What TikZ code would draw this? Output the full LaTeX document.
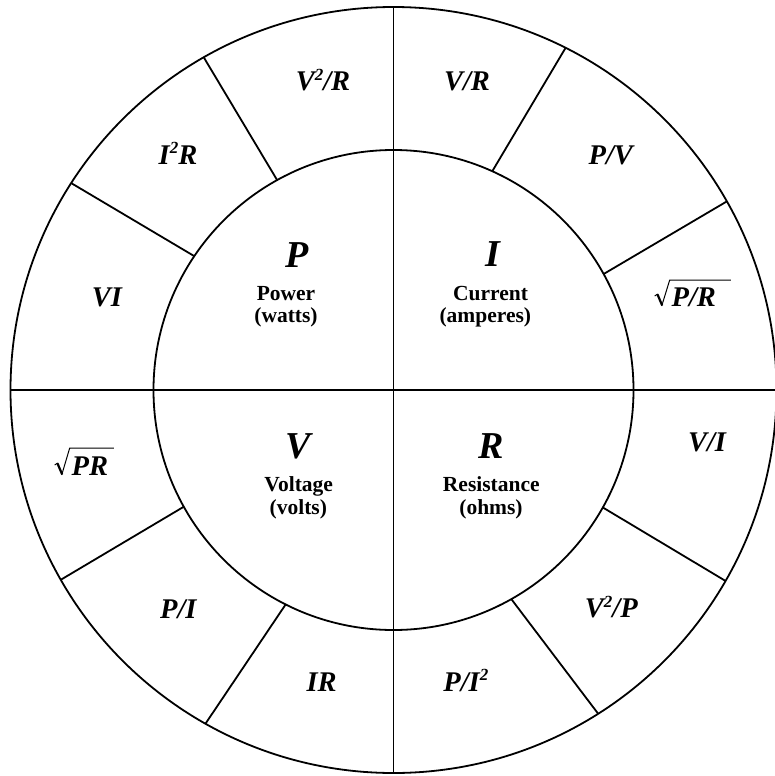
\documentclass[tikz,border=0pt]{standalone}
\usepackage{fontspec}
\setmainfont{Liberation Serif}
\usetikzlibrary{calc}
\newcommand\sq{\raisebox{0.37em}{\fontsize{17}{17}\selectfont 2}}
\begin{document}
\begin{tikzpicture}[x=1pt,y=-1pt,line width=1.8pt,
  bigsym/.style={font=\bfseries\itshape\fontsize{38}{42}\selectfont,inner sep=0pt,anchor=base},
  formula/.style={font=\bfseries\itshape\fontsize{28.5}{32}\selectfont,inner sep=0pt,anchor=base},
  qname/.style={font=\bfseries\fontsize{21.5}{24}\selectfont,inner sep=0pt,anchor=base},
  radthin/.style={line width=1pt,line join=miter},
  radthick/.style={line width=2.2pt}]
\useasboundingbox (0,0) rectangle (775,776);
\coordinate (O) at (393.5,390);
\draw (O) circle (383pt);
\draw (O) circle (240pt);
\draw ($(O)+(-383,0)$) -- ($(O)+(383,0)$);
\draw ($(O)+(0,-383)$) -- ($(O)+(0,383)$);
% dividers
\draw ($(O)+(241:240)$) -- ($(O)+(240.3:383)$);
\draw ($(O)+(213.9:240)$) -- ($(O)+(212.7:383)$);
\draw ($(O)+(294.3:240)$) -- ($(O)+(296.7:383)$);
\draw ($(O)+(331.1:240)$) -- ($(O)+(330.5:383)$);
\draw ($(O)+(150.9:240)$) -- ($(O)+(150.3:383)$);
\draw ($(O)+(116.7:240)$) -- ($(O)+(119.4:383)$);
\draw ($(O)+(29.3:240)$) -- ($(O)+(29.9:383)$);
\draw ($(O)+(60.6:240)$) -- ($(O)+(57.7:383)$);
% quadrant P
\node[bigsym] (P) at (297,267.7) {P};
\node[qname] (Pn) at (286,300) {Power};
\node[qname] (Pu) at (286,322.7) {(watts)};
\node[formula] (f1) at (323,90.7) {V\sq/R};
\node[formula] (f2) at (178,164) {I\sq R};
\node[formula] (f3) at (107,306.7) {VI};
% quadrant I
\node[bigsym] (I) at (493.3,266.7) {I};
\node[qname] (In) at (490.5,300) {Current};
\node[qname] (Iu) at (485.3,322.7) {(amperes)};
\node[formula] (f4) at (467,90.7) {V/R};
\node[formula] (f5) at (610.8,164) {P/V};
\node[formula,anchor=base west] (f6) at (670.7,306) {P/R};
\draw[radthin] ($(f6.base west)+(-16,-10)$) -- ++(3,-2);
\draw[radthick] ($(f6.base west)+(-13.3,-11.8)$) -- ($(f6.base west)+(-8.5,-0.5)$);
\draw[radthin] ($(f6.base west)+(-9,0)$) -- ($(f6.base west)+(-1,-26)$) -- ($(f6.base east)+(14,-26)$);
% quadrant V
\node[bigsym] (V) at (298.3,458.3) {V};
\node[qname] (Vn) at (298.7,491) {Voltage};
\node[qname] (Vu) at (298.3,514.3) {(volts)};
\node[formula,anchor=base west] (f7) at (70.7,475) {PR};
\draw[radthin] ($(f7.base west)+(-16,-10)$) -- ++(3,-2);
\draw[radthick] ($(f7.base west)+(-13.3,-11.8)$) -- ($(f7.base west)+(-8.5,-0.5)$);
\draw[radthin] ($(f7.base west)+(-9,0)$) -- ($(f7.base west)+(-1,-27)$) -- ($(f7.base east)+(5,-27)$);
\node[formula] (f8) at (178.3,618.3) {P/I};
\node[formula] (f9) at (321.7,691) {IR};
% quadrant R
\node[bigsym] (R) at (491,458.3) {R};
\node[qname] (Rn) at (491.3,491) {Resistance};
\node[qname] (Ru) at (491,514.3) {(ohms)};
\node[formula] (f10) at (707,451) {V/I};
\node[formula] (f11) at (611.3,617.7) {V\sq/P};
\node[formula] (f12) at (465.8,691) {P/I\sq};
\end{tikzpicture}
\end{document}
